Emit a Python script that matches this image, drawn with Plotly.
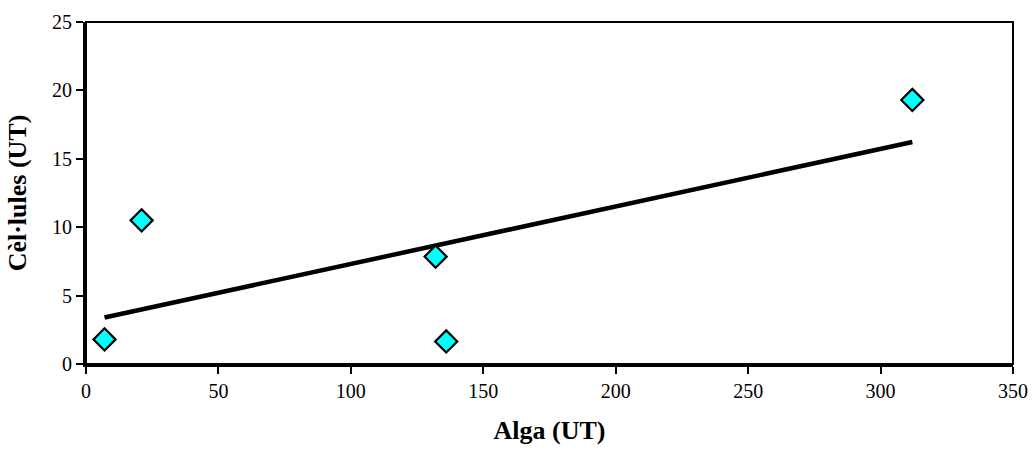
import numpy as np
import plotly.graph_objects as go

alga = [7, 21, 132, 136, 312]
cellules = [1.8, 10.5, 7.85, 1.65, 19.3]

x_ticks = [0, 50, 100, 150, 200, 250, 300, 350]
y_ticks = [0, 5, 10, 15, 20, 25]

slope, intercept = np.polyfit(alga, cellules, 1)
trend_x = [min(alga), max(alga)]
trend_y = [slope * v + intercept for v in trend_x]

font = "Liberation Serif, Times New Roman, serif"

fig = go.Figure()
fig.add_trace(go.Scatter(x=trend_x, y=trend_y, mode="lines",
                         line=dict(color="black", width=4.5), showlegend=False))
fig.add_trace(go.Scatter(x=alga, y=cellules, mode="markers",
                         marker=dict(symbol="diamond", size=17, color="#00FFFF",
                                     line=dict(color="black", width=2.2)),
                         showlegend=False))

fig.add_shape(type="rect", xref="paper", yref="paper", x0=0, y0=0, x1=1, y1=1,
              line=dict(color="black", width=2), layer="above")

fig.update_layout(
    width=1033, height=455,
    margin=dict(l=86, r=20, t=22, b=91),
    paper_bgcolor="white", plot_bgcolor="white",
    font=dict(family=font, size=20, color="black"),
    xaxis=dict(range=[0, 350], tickvals=x_ticks, showgrid=False, zeroline=False,
               showline=True, linecolor="black", linewidth=3,
               ticks="outside", ticklen=7, tickwidth=2, tickcolor="black",
               automargin=False,
               title=dict(text="<b>Alga (UT)</b>", font=dict(size=26, family=font), standoff=20)),
    yaxis=dict(range=[0, 25], tickvals=y_ticks, showgrid=False, zeroline=False,
               showline=True, linecolor="black", linewidth=3,
               ticks="outside", ticklen=7, tickwidth=2, tickcolor="black",
               automargin=False,
               title=dict(text="<b>Cèl·lules (UT)</b>", font=dict(size=26, family=font), standoff=18)),
)

fig.write_html("out.html")
